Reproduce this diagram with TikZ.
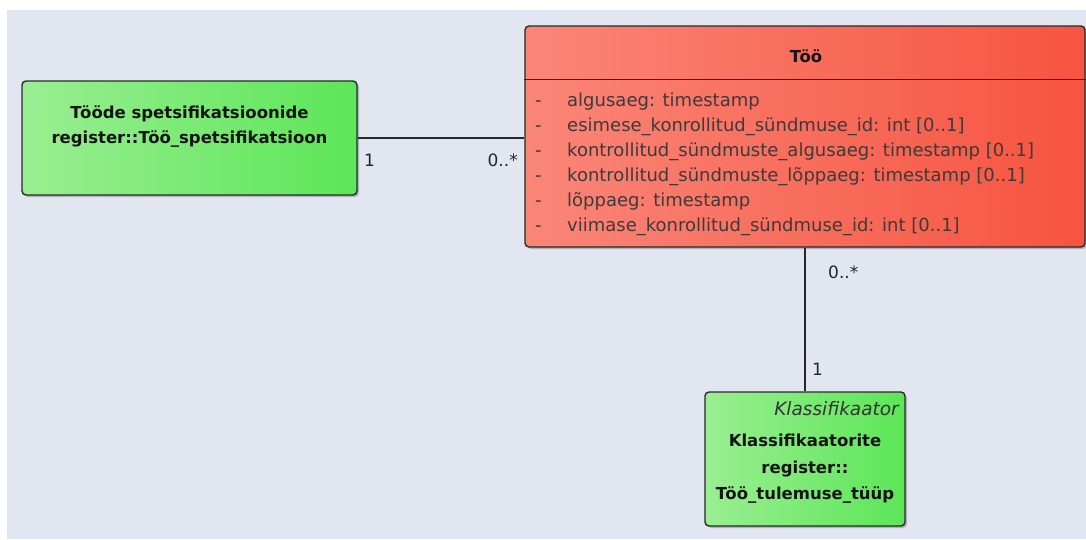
\documentclass[tikz,border=0pt]{standalone}
\usepackage{fontspec}
\setmainfont{DejaVu Sans}
\usetikzlibrary{shadows}

\definecolor{canvas}{RGB}{225,230,241}
\definecolor{redL}{RGB}{250,134,120}
\definecolor{redR}{RGB}{246,84,64}
\definecolor{greenL}{RGB}{154,238,146}
\definecolor{greenR}{RGB}{92,230,88}
\definecolor{edge}{RGB}{40,40,40}
\definecolor{attrgray}{RGB}{62,58,58}

\tikzset{
  umlbox/.style={draw=edge, line width=1.4pt, rounded corners=4pt, inner sep=0pt,
    drop shadow={shadow xshift=2pt, shadow yshift=-2pt, opacity=0.22, fill=black}},
  redbox/.style={umlbox, left color=redL, right color=redR},
  greenbox/.style={umlbox, left color=greenL, right color=greenR},
  attrtext/.style={anchor=base west, inner sep=0pt, text=attrgray, font=\fontsize{18}{22}\selectfont},
  titletext/.style={inner sep=0pt, text=black!92, font=\fontsize{16.5}{26.5}\selectfont\bfseries, align=center},
  multtext/.style={inner sep=0pt, text=black!85, font=\fontsize{17}{20}\selectfont},
  assoc/.style={draw=edge, line width=1.3pt}
}

\begin{document}
\begin{tikzpicture}[x=1pt, y=-1pt]
  % page and canvas
  \useasboundingbox (0,0) rectangle (1086,539);
  \fill[white] (0,0) rectangle (1086,539);
  \fill[canvas] (7,10) rectangle (1086,539);

  % class Töö
  \node[redbox, minimum width=560pt, minimum height=221pt] (too) at (805,136.5) {};
  \draw[edge, line width=1.3pt] (too.west |- 0,79.5) -- (too.east |- 0,79.5);
  \node[titletext, anchor=base] (tootitle) at (806,62) {Töö};
  \foreach \i/\t in {0/{algusaeg: timestamp},
                     1/{esimese\_konrollitud\_sündmuse\_id: int [0..1]},
                     2/{kontrollitud\_sündmuste\_algusaeg: timestamp [0..1]},
                     3/{kontrollitud\_sündmuste\_lõppaeg: timestamp [0..1]},
                     4/{lõppaeg: timestamp},
                     5/{viimase\_konrollitud\_sündmuse\_id: int [0..1]}} {
    \node[attrtext] (dash\i) at (535,106+25.1*\i) {-};
    \node[attrtext] (attr\i) at (567,106+25.1*\i) {\t};
  }

  % class Tööde spetsifikatsioonide register::Töö_spetsifikatsioon
  \node[greenbox, minimum width=335pt, minimum height=114pt] (spec) at (189.5,138) {};
  \node[titletext, anchor=base] (spec1) at (189.5,118) {Tööde spetsifikatsioonide};
  \node[titletext, anchor=base] (spec2) at (189.5,143) {register::Töö\_spetsifikatsioon};

  % class Klassifikaatorite register::Töö_tulemuse_tüüp
  \node[greenbox, minimum width=200pt, minimum height=134pt] (klass) at (805,459) {};
  \node[inner sep=0pt, anchor=base east, text=black!80,
        font=\fontsize{18.5}{22}\selectfont\itshape] (stereo) at (899,415) {Klassifikaator};
  \node[titletext, anchor=base] (klass1) at (805,446) {Klassifikaatorite};
  \node[titletext, anchor=base] (klass2) at (805,473) {register::};
  \node[titletext, anchor=base] (klass3) at (805,499) {Töö\_tulemuse\_tüüp};

  % associations
  \draw[assoc] (spec.east) -- (spec.east -| too.west);
  \draw[assoc] (too.south) -- (klass.north);

  % multiplicities
  \node[multtext, anchor=base west] (m1) at (364,166) {1};
  \node[multtext, anchor=base east] (m2) at (518,166) {0..*};
  \node[multtext, anchor=base west] (m3) at (828,278) {0..*};
  \node[multtext, anchor=base west] (m4) at (812,375) {1};
\end{tikzpicture}
\end{document}
